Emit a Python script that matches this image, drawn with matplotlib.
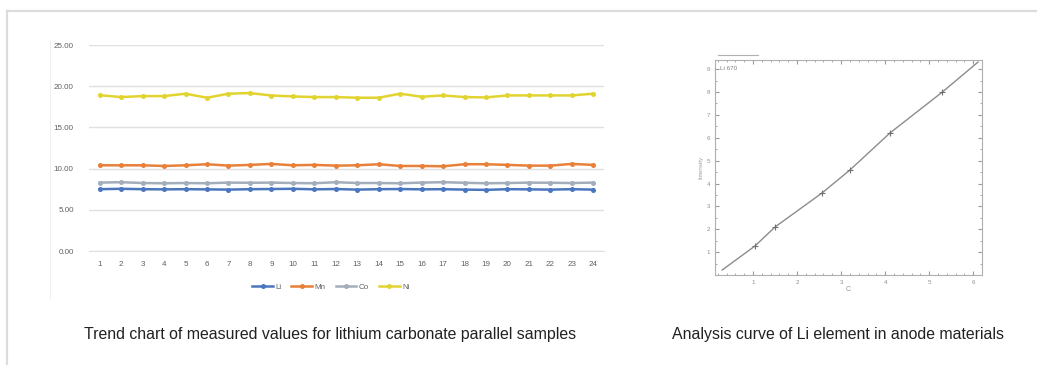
import matplotlib
matplotlib.use("Agg")
import matplotlib.pyplot as plt
from matplotlib.lines import Line2D
from matplotlib.ticker import AutoMinorLocator

plt.rcParams['font.family'] = ['Liberation Sans', 'DejaVu Sans']

# ---------------- data ----------------
samples = list(range(1, 25))
li = [7.50, 7.55, 7.50, 7.48, 7.50, 7.48, 7.45, 7.50, 7.52, 7.55, 7.48, 7.52,
      7.45, 7.50, 7.52, 7.48, 7.50, 7.45, 7.42, 7.50, 7.48, 7.45, 7.50, 7.45]
mn = [10.40, 10.40, 10.40, 10.32, 10.40, 10.53, 10.36, 10.45, 10.57, 10.40, 10.45, 10.36,
      10.40, 10.53, 10.32, 10.32, 10.28, 10.53, 10.53, 10.45, 10.36, 10.36, 10.57, 10.45]
co = [8.30, 8.35, 8.25, 8.22, 8.25, 8.22, 8.30, 8.28, 8.30, 8.25, 8.22, 8.35,
      8.25, 8.25, 8.22, 8.30, 8.35, 8.28, 8.22, 8.25, 8.30, 8.28, 8.25, 8.30]
ni = [18.91, 18.68, 18.80, 18.80, 19.09, 18.60, 19.09, 19.17, 18.87, 18.76, 18.68, 18.68,
      18.60, 18.60, 19.09, 18.72, 18.88, 18.68, 18.64, 18.88, 18.88, 18.88, 18.88, 19.09]
series_names = ["Li", "Mn", "Co", "Ni"]
y_ticks_left = [0, 5, 10, 15, 20, 25]

cal_x = [0.30, 1.045, 1.50, 2.57, 3.20, 4.11, 5.30, 6.11]
cal_y = [0.22, 1.27, 2.10, 3.59, 4.59, 6.21, 8.00, 9.31]
cal_xticks = [1, 2, 3, 4, 5, 6]
cal_yticks = [1, 2, 3, 4, 5, 6, 7, 8, 9]

caption_left = "Trend chart of measured values for lithium carbonate parallel samples"
caption_right = "Analysis curve of Li element in anode materials"

# ---------------- figure ----------------
W, H = 1037, 365
fig = plt.figure(figsize=(W / 100, H / 100), dpi=100)
fig.patch.set_facecolor("white")

def fx(px):
    return px / W

def fy(py):
    return 1 - py / H

# outer frame (top and left light gray lines)
fig.add_artist(Line2D([fx(7), 1.0], [fy(11), fy(11)], color="#dcdcdc", lw=1.6))
fig.add_artist(Line2D([fx(7), fx(7)], [fy(11), 0.0], color="#dcdcdc", lw=1.6))
# faint chart-area border of excel chart
fig.add_artist(Line2D([fx(50), fx(50)], [fy(40), fy(298)], color="#f0f0f0", lw=0.8))

# ---------------- left chart ----------------
axL = fig.add_axes([fx(89), fy(251), fx(604) - fx(89), fy(45) - fy(251)])
colors = ["#4a76c0", "#e8803a", "#a3adbb", "#e2d430"]
data = [li, mn, co, ni]
for name, vals, c in zip(series_names, data, colors):
    axL.plot(samples, vals, color=c, lw=1.8, marker="o", ms=3.6,
             markeredgewidth=0, label=name, zorder=3)
axL.set_xlim(0.5, 24.5)
axL.set_ylim(0, 25)
axL.set_yticks(y_ticks_left)
axL.set_yticklabels([f"{v:.2f}" for v in y_ticks_left])
axL.set_xticks(samples)
axL.set_xticklabels([str(s) for s in samples])
axL.grid(axis="y", color="#e0e0e0", lw=1.0, zorder=0)
for s in axL.spines.values():
    s.set_visible(False)
axL.spines["bottom"].set_visible(True)
axL.spines["bottom"].set_color("#e0e0e0")
axL.tick_params(axis="both", length=0, labelsize=5.8, labelcolor="#606060")
axL.tick_params(axis="y", pad=11)
axL.tick_params(axis="x", pad=7)

leg = fig.legend(*axL.get_legend_handles_labels(), loc="center",
                 bbox_to_anchor=(fx(331), fy(287)), ncol=4, frameon=False,
                 fontsize=5.8, handlelength=2.6, columnspacing=1.2,
                 handletextpad=0.3, labelcolor="#606060")

# ---------------- right chart ----------------
axR = fig.add_axes([fx(715), fy(275), fx(982) - fx(715), fy(60) - fy(275)])
axR.plot(cal_x, cal_y, color="#8c8c8c", lw=1.0, zorder=3)
axR.plot(cal_x[1:-1], cal_y[1:-1], ls="none", marker="+", ms=4, mew=0.8,
         color="#707070", zorder=4)
axR.set_xlim(0.136, 6.2)
axR.set_ylim(0, 9.4)
axR.set_xticks(cal_xticks)
axR.set_yticks(cal_yticks)
axR.xaxis.set_minor_locator(AutoMinorLocator(5))
axR.yaxis.set_minor_locator(AutoMinorLocator(2))
for s in axR.spines.values():
    s.set_color("#b0b0b0")
    s.set_linewidth(0.8)
axR.tick_params(which="both", direction="in", top=True, right=True,
                color="#9a9a9a", labelsize=4.5, labelcolor="#909090")
axR.tick_params(which="major", length=3)
axR.tick_params(which="minor", length=1.5)
axR.set_xlabel("C", fontsize=5, color="#909090", labelpad=1)
axR.set_ylabel("Intensity", fontsize=4.5, color="#a0a0a0", labelpad=2)
axR.text(0.02, 0.97, "Li 670", transform=axR.transAxes, fontsize=4.5,
         color="#808080", va="top", ha="left")
axR.plot([0.01, 0.16], [1.025, 1.025], transform=axR.transAxes, color="#b0b0b0",
         lw=0.8, clip_on=False)

# ---------------- captions ----------------
fig.text(fx(330), fy(334), caption_left, ha="center", va="center",
         fontsize=11.4, color="#222222")
fig.text(fx(838), fy(334), caption_right, ha="center", va="center",
         fontsize=11.4, color="#222222")

fig.savefig("out.png", dpi=100, facecolor="white")
